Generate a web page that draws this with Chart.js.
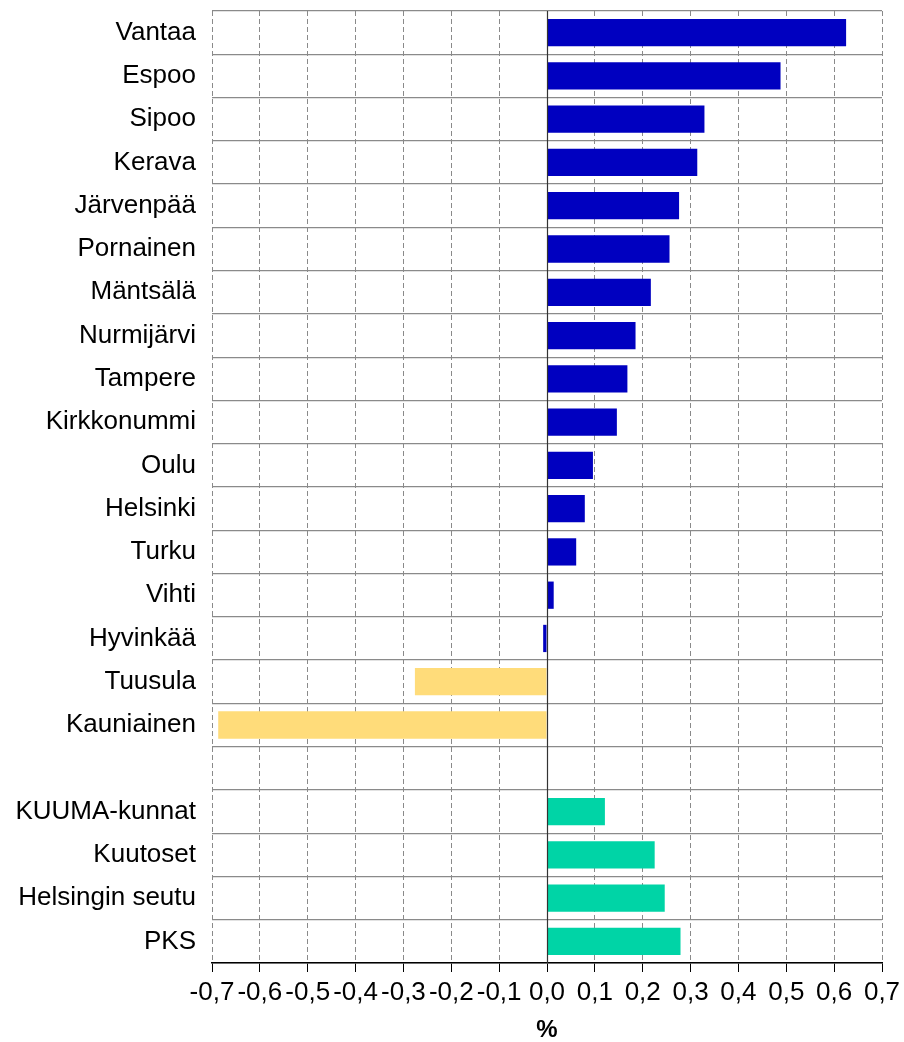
<!DOCTYPE html>
<html>
<head>
<meta charset="utf-8">
<script src="https://cdn.jsdelivr.net/npm/chart.js@4/dist/chart.umd.min.js"></script>
<style>
  body { margin: 0; background: #fff; }
  canvas { display: block; }
</style>
</head>
<body>
<canvas id="myChart" width="904" height="1042"></canvas>
<script>
// kunnat ja muutos (%)
const municipalities = ['Vantaa', 'Espoo', 'Sipoo', 'Kerava', 'Järvenpää', 'Pornainen', 'Mäntsälä',
  'Nurmijärvi', 'Tampere', 'Kirkkonummi', 'Oulu', 'Helsinki', 'Turku', 'Vihti', 'Hyvinkää',
  'Tuusula', 'Kauniainen'];
const municipalityValues = [0.625, 0.488, 0.329, 0.314, 0.276, 0.256, 0.217,
  0.185, 0.168, 0.146, 0.096, 0.079, 0.061, 0.014, -0.008,
  -0.276, -0.687];

// alueet
const regions = ['KUUMA-kunnat', 'Kuutoset', 'Helsingin seutu', 'PKS'];
const regionValues = [0.121, 0.225, 0.246, 0.279];

const xTicksMin = -0.7;
const xTicksMax = 0.7;
const xStep = 0.1;

const blue = '#0000C0';
const yellow = '#FFDC7A';
const teal = '#00D4A6';

// yhdistetään kategoriat, tyhjä rivi välissä
const labels = [...municipalities, '', ...regions];
const values = [...municipalityValues, null, ...regionValues];
const colors = [
  ...municipalityValues.map(v => v < -0.1 ? yellow : blue),
  'rgba(0,0,0,0)',
  ...regionValues.map(() => teal)
];

const fmt = v => {
  let r = Math.round(v * 10) / 10;
  if (Math.abs(r) < 1e-9) r = 0;
  return r.toFixed(1).replace('.', ',');
};

// nollaviiva
const zeroLine = {
  id: 'zeroLine',
  afterDatasetsDraw(chart) {
    const {ctx, chartArea, scales} = chart;
    const x = Math.round(scales.x.getPixelForValue(0)) + 0.5;
    ctx.save();
    ctx.strokeStyle = '#333333';
    ctx.lineWidth = 1.2;
    ctx.beginPath();
    ctx.moveTo(x, chartArea.top);
    ctx.lineTo(x, chartArea.bottom);
    ctx.stroke();
    ctx.restore();
  }
};

const ctx = document.getElementById('myChart');
const chart = new Chart(ctx, {
  type: 'bar',
  data: {
    labels: labels,
    datasets: [{
      data: values,
      backgroundColor: colors,
      borderWidth: 0,
      barPercentage: 0.63,
      categoryPercentage: 1
    }]
  },
  options: {
    indexAxis: 'y',
    responsive: false,
    animation: false,
    devicePixelRatio: 1,
    layout: { padding: { top: 11, right: 22, bottom: 0, left: 0 } },
    plugins: {
      legend: { display: false },
      tooltip: { enabled: false }
    },
    scales: {
      x: {
        min: xTicksMin,
        max: xTicksMax,
        afterFit: scale => {
          scale.height = 79;
          scale.paddingLeft = 0;
          scale.paddingRight = 0;
        },
        ticks: {
          stepSize: xStep,
          autoSkip: false,
          maxRotation: 0,
          padding: 5,
          color: '#000',
          font: { family: "'Liberation Sans', Arial, sans-serif", size: 26 },
          callback: v => fmt(v)
        },
        grid: {
          color: '#8a8a8a',
          lineWidth: 1,
          tickLength: 9,
          tickColor: '#000',
          tickBorderDash: [],
          tickWidth: 1
        },
        border: { display: true, color: '#000', width: 1.5, dash: [5, 3] },
        title: {
          display: true,
          text: '%',
          color: '#000',
          padding: { top: 0, bottom: 0 },
          font: { family: "'Liberation Sans', Arial, sans-serif", size: 24, weight: 'bold', lineHeight: 1 }
        }
      },
      y: {
        afterFit: scale => {
          scale.width = 212;
          scale.paddingTop = 0;
          scale.paddingBottom = 0;
        },
        ticks: {
          padding: 16,
          color: '#000',
          autoSkip: false,
          font: { family: "'Liberation Sans', Arial, sans-serif", size: 26 }
        },
        grid: {
          color: '#8a8a8a',
          lineWidth: 1.3,
          drawTicks: false,
          offset: true
        },
        border: { display: false }
      }
    }
  },
  plugins: [zeroLine]
});
</script>
</body>
</html>
